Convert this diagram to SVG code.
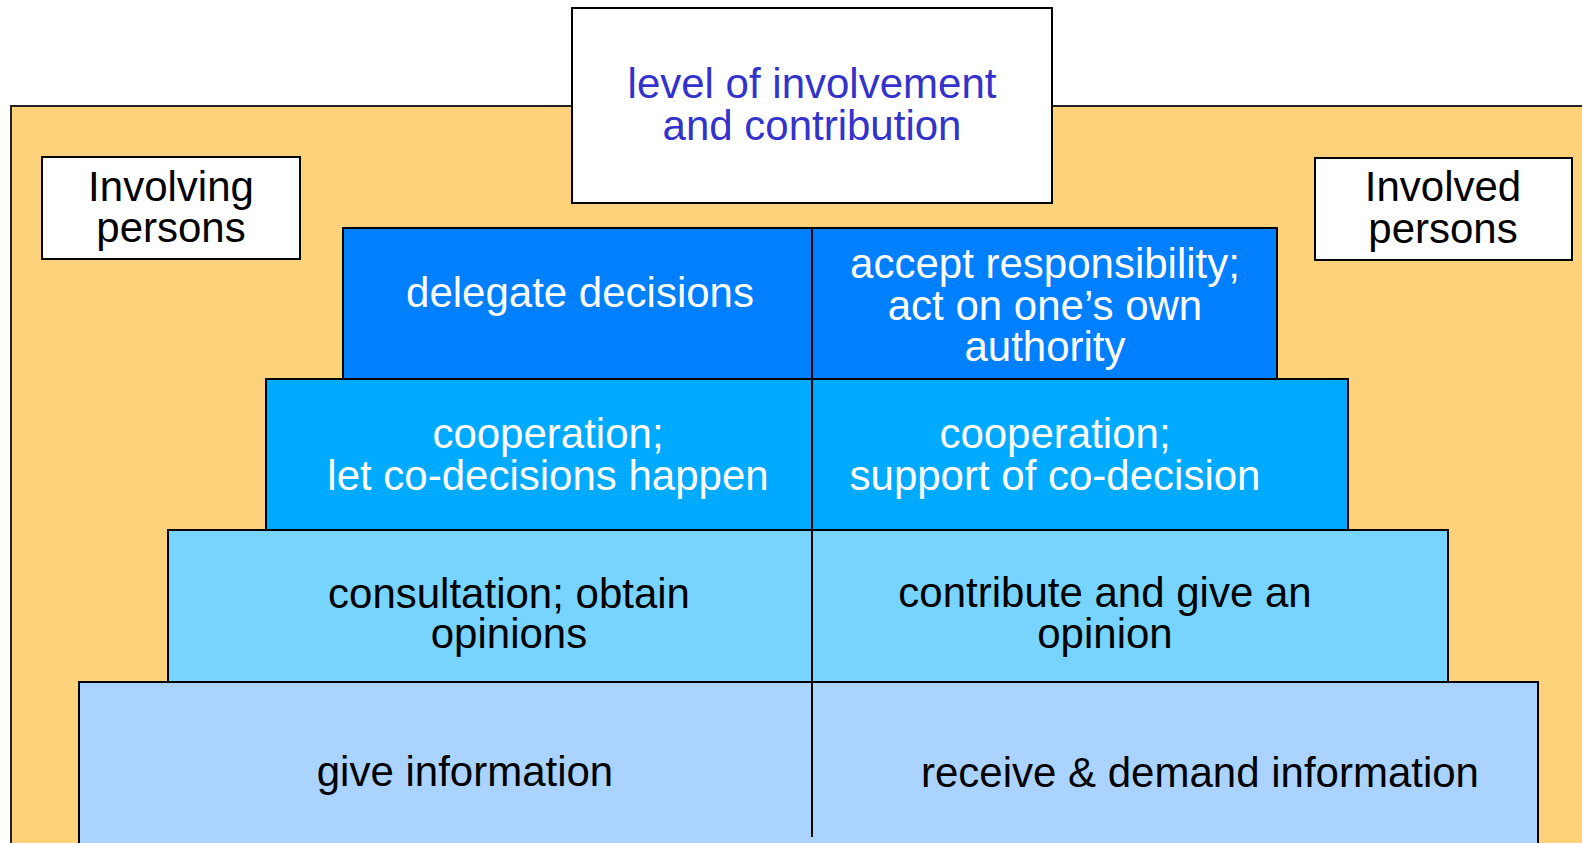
<svg xmlns="http://www.w3.org/2000/svg" width="1582" height="843" viewBox="0 0 1582 843">
<style>
.box{stroke:#000;stroke-width:2}
.t{font-family:"Liberation Sans",Arial,sans-serif;font-size:42px;text-anchor:middle}
.w{fill:#fff}
.k{fill:#000}
</style>
<rect width="1582" height="843" fill="#fff"/>
<g id="background">
<rect x="11" y="106" width="1590" height="760" fill="#FDD27A" stroke="#222" stroke-width="2"/>
</g>
<g id="title">
<rect class="box" x="572" y="8" width="480" height="195" fill="#fff"/>
<text class="t" x="812" y="98" fill="#3333CC">level of involvement</text>
<text class="t" x="812" y="140" fill="#3333CC">and contribution</text>
</g>
<g id="involving">
<rect class="box" x="42" y="157" width="258" height="102" fill="#fff"/>
<text class="t k" x="171" y="201">Involving</text>
<text class="t k" x="171" y="242">persons</text>
</g>
<g id="involved">
<rect class="box" x="1315" y="158" width="257" height="102" fill="#fff"/>
<text class="t k" x="1443" y="201">Involved</text>
<text class="t k" x="1443" y="243">persons</text>
</g>
<g id="level4">
<rect class="box" x="79" y="682" width="1459" height="200" fill="#AAD4FF"/>
<text class="t k" x="465" y="786">give information</text>
<text class="t k" x="1200" y="787">receive &amp; demand information</text>
</g>
<g id="level3">
<rect class="box" x="168" y="530" width="1280" height="152" fill="#77D4FF"/>
<text class="t k" x="509" y="608">consultation; obtain</text>
<text class="t k" x="509" y="648">opinions</text>
<text class="t k" x="1105" y="607">contribute and give an</text>
<text class="t k" x="1105" y="648">opinion</text>
</g>
<g id="level2">
<rect class="box" x="266" y="379" width="1082" height="151" fill="#00AAFF"/>
<text class="t w" x="548" y="448">cooperation;</text>
<text class="t w" x="548" y="490">let co-decisions happen</text>
<text class="t w" x="1055" y="448">cooperation;</text>
<text class="t w" x="1055" y="490">support of co-decision</text>
</g>
<g id="level1">
<rect class="box" x="343" y="228" width="934" height="151" fill="#0080FF"/>
<text class="t w" x="580" y="307">delegate decisions</text>
<text class="t w" x="1045" y="278">accept responsibility;</text>
<text class="t w" x="1045" y="320">act on one’s own</text>
<text class="t w" x="1045" y="361">authority</text>
</g>
<g id="connectors">
<line x1="812" y1="228" x2="812" y2="837" stroke="#000" stroke-width="2"/>
</g>
</svg>
